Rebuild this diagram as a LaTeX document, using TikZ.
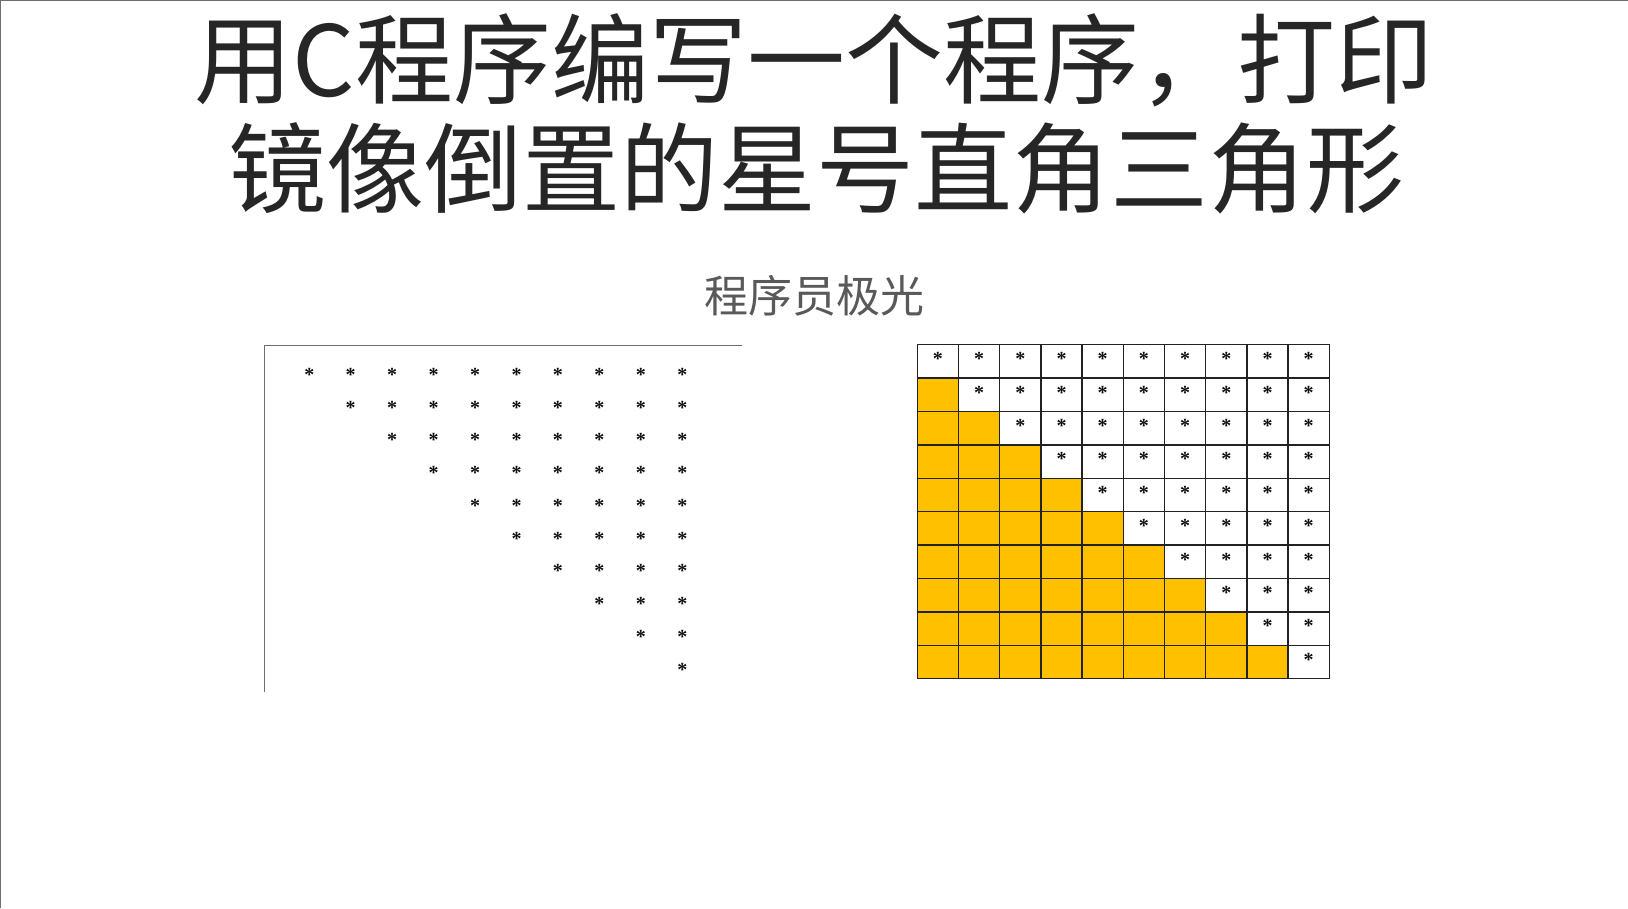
\documentclass[tikz,border=0pt]{standalone}
\usepackage{fontspec}
\newfontfamily\cjk{Noto Sans CJK SC}
\newfontfamily\starfont{Liberation Serif}
\definecolor{titlegray}{HTML}{262626}
\definecolor{subgray}{HTML}{595959}
\definecolor{gold}{HTML}{FFC000}
\definecolor{gridline}{HTML}{222222}
\definecolor{framegray}{HTML}{6E6E6E}
\definecolor{stargray}{HTML}{111111}
\tikzset{
  titletext/.style={text=titlegray, inner sep=0pt, font=\cjk\fontsize{98}{100}\selectfont},
  subtext/.style={text=subgray, inner sep=0pt, font=\cjk\fontsize{44}{46}\selectfont},
  stardot/.style={text=stargray, inner sep=0pt, anchor=base, font=\starfont\bfseries\fontsize{20}{22}\selectfont},
  cellbox/.style={draw=gridline, line width=1.5pt, minimum width=41.2pt, minimum height=33.4pt, inner sep=0pt, rectangle},
  framepath/.style={draw=framegray, line width=1.2pt}
}
\begin{document}
\begin{tikzpicture}[x=1pt,y=-1pt]
\useasboundingbox (0,0) rectangle (1628,908);
\fill[white] (0,0) rectangle (1628,908);
% page edge lines
\coordinate (pbl) at (0,908);
\coordinate (ptl) at (0,0);
\coordinate (ptr) at (1628,0);
\draw[framegray, line width=1.5pt] (pbl) -- (ptl) -- (ptr);
% titles
\node[titletext] (t1) at (814,60) {用C程序编写一个程序，打印};
\node[titletext] (t2) at (816,168) {镜像倒置的星号直角三角形};
\node[subtext] (st) at (814,296) {程序员极光};
% left frame
\coordinate (fr) at (741.7,345.3);
\coordinate (fc) at (264.3,345.3);
\coordinate (fb) at (264.3,691.7);
\draw[framepath] (fr) -- (fc) -- (fb);
% left stars
\foreach \i in {0,...,9}{
  \foreach \j in {\i,...,9}{
    \node[stardot] (L-\i-\j) at ({309.3+41.44*\j},{372.3+32.78*\i+9}) {*};
  }
}
% grid
\foreach \i in {0,...,9}{
  \foreach \j in {0,...,9}{
    \ifnum\j<\i
      \node[cellbox, fill=gold] (C-\i-\j) at ({917.3+41.2*(\j+0.5)},{344.7+33.4*(\i+0.5)}) {};
    \else
      \node[cellbox, fill=white] (C-\i-\j) at ({917.3+41.2*(\j+0.5)},{344.7+33.4*(\i+0.5)}) {};
    \fi
  }
}
\foreach \i in {0,...,9}{
  \foreach \j in {\i,...,9}{
    \node[stardot] (S-\i-\j) at ({917.3+41.2*(\j+0.5)},{356.7+33.4*\i+9}) {*};
  }
}
\end{tikzpicture}
\end{document}
